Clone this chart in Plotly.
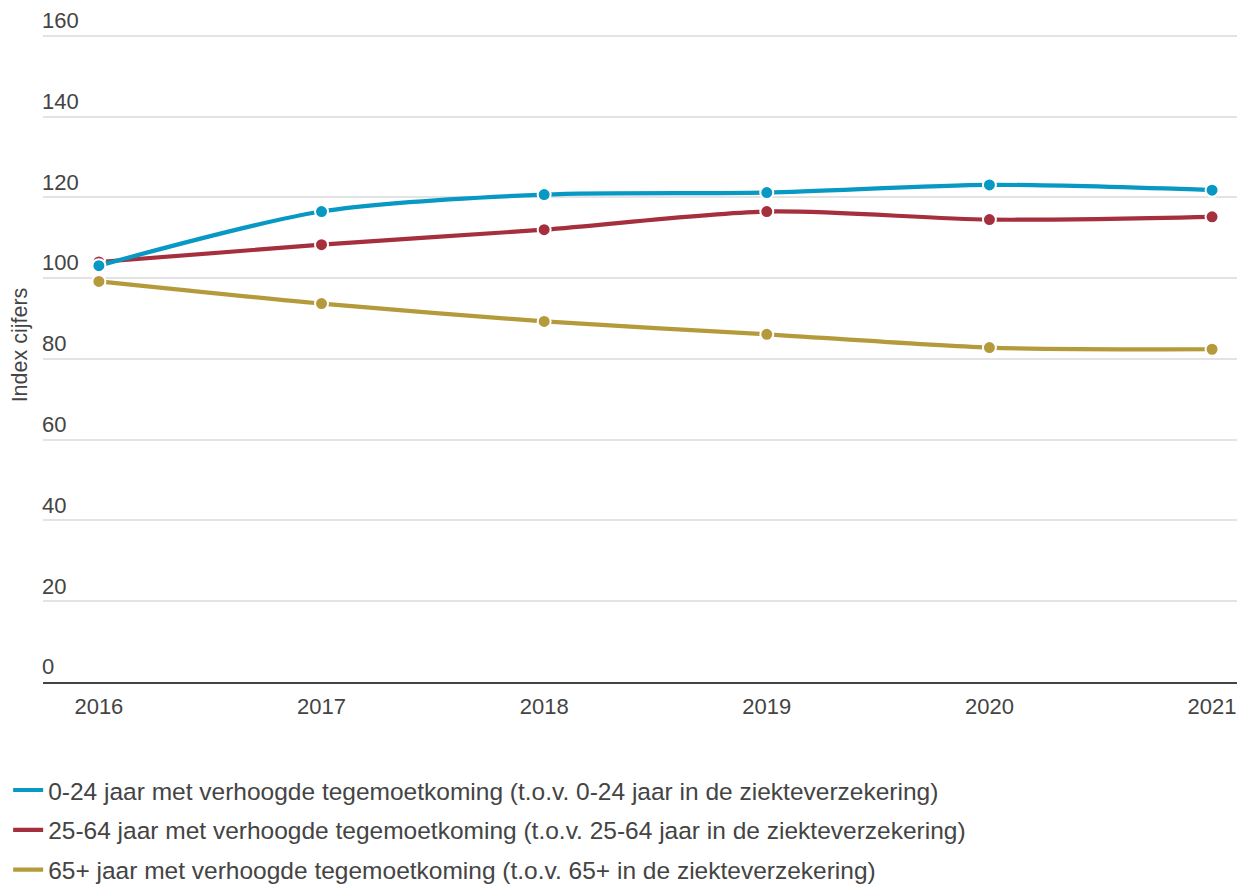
import plotly.graph_objects as go

jaren = [2016, 2017, 2018, 2019, 2020, 2021]
jong = [103.1, 116.5, 120.7, 121.2, 123.1, 121.8]
actief = [104.0, 108.3, 112.0, 116.5, 114.5, 115.2]
senior = [99.2, 93.7, 89.3, 86.1, 82.8, 82.4]

namen = [
    '0-24 jaar met verhoogde tegemoetkoming (t.o.v. 0-24 jaar in de ziekteverzekering)',
    '25-64 jaar met verhoogde tegemoetkoming (t.o.v. 25-64 jaar in de ziekteverzekering)',
    '65+ jaar met verhoogde tegemoetkoming (t.o.v. 65+ in de ziekteverzekering)',
]
kleuren = ['#0799c3', '#a52f3d', '#b59a3b']
reeksen = [jong, actief, senior]

fig = go.Figure()

# van onder naar boven tekenen zodat blauw bovenop ligt
for i in [2, 1, 0]:
    fig.add_trace(go.Scatter(
        x=jaren,
        y=reeksen[i],
        mode='lines',
        name=namen[i],
        legendgroup=f'g{i}',
        legendrank=i + 1,
        line=dict(color=kleuren[i], width=4.2, shape='spline', smoothing=0.8),
    ))
    fig.add_trace(go.Scatter(
        x=jaren,
        y=reeksen[i],
        mode='markers',
        legendgroup=f'g{i}',
        showlegend=False,
        marker=dict(size=13, color=kleuren[i], line=dict(color='white', width=2)),
    ))

# de pagina heeft 8px body-marge: marges daarop afgestemd
fig.update_layout(
    width=1245,
    height=885,
    paper_bgcolor='white',
    plot_bgcolor='white',
    font=dict(family='Liberation Sans, Arial, sans-serif', size=22, color='#444444'),
    margin=dict(l=32, r=8, t=0, b=210),
    showlegend=True,
    legend=dict(
        orientation='v',
        x=-0.029,
        xanchor='left',
        y=-0.127,
        yanchor='top',
        traceorder='grouped',
        tracegroupgap=5,
        font=dict(size=24.5, color='#444444'),
        itemwidth=30,
    ),
)

fig.update_xaxes(
    range=[2015.749, 2021.148],
    tickvals=jaren,
    ticktext=[str(j) for j in jaren],
    showgrid=False,
    showline=True,
    linecolor='#444444',
    linewidth=2,
    ticks='',
    ticklabelstandoff=4,
    zeroline=False,
    automargin=False,
    tickfont=dict(size=22),
)

fig.update_yaxes(
    range=[0, 166.9],
    tickvals=[0, 20, 40, 60, 80, 100, 120, 140, 160],
    ticklabelposition='inside top',
    ticklabelstandoff=-4,
    showgrid=True,
    gridcolor='#e3e3e3',
    gridwidth=1.5,
    zeroline=False,
    showline=False,
    automargin=False,
    tickfont=dict(size=22),
    title=dict(text='Index cijfers', font=dict(size=21.5), standoff=10),
)

fig.write_html('out.html')
